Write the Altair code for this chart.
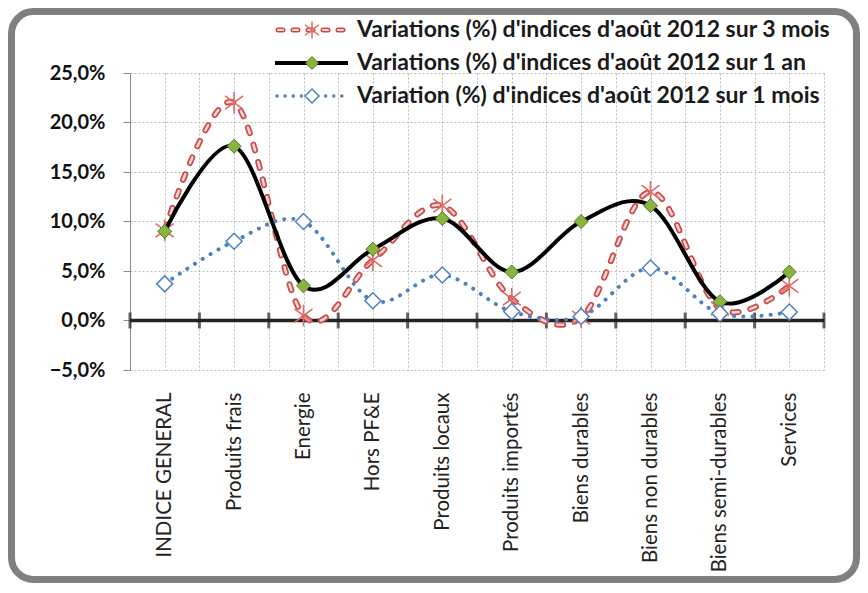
import json
import altair as alt
import pandas as pd

categories = ["INDICE GENERAL", "Produits frais", "Energie", "Hors PF&E", "Produits locaux",
              "Produits importés", "Biens durables", "Biens non durables", "Biens semi-durables", "Services"]
series_names = ["Variations (%) d'indices d'août 2012 sur 3 mois",
                "Variations (%) d'indices d'août 2012 sur 1 an",
                "Variation (%) d'indices d'août 2012 sur 1 mois"]
var_3mois = [9.1, 22.0, 0.5, 6.1, 11.6, 2.2, 0.3, 13.0, 1.2, 3.5]
var_1an = [9.0, 17.6, 3.5, 7.2, 10.3, 4.9, 10.0, 11.6, 1.9, 4.9]
var_1mois = [3.7, 8.0, 10.0, 2.0, 4.6, 0.9, 0.4, 5.3, 0.7, 0.85]
y_ticks = [-0.05, 0.0, 0.05, 0.10, 0.15, 0.20, 0.25]

rows = []
for name, vals in zip(series_names, [var_3mois, var_1an, var_1mois]):
    for i, (c, v) in enumerate(zip(categories, vals)):
        rows.append({"idx": i, "cat": c, "value": v / 100.0, "series": name})
df = pd.DataFrame(rows)

n = len(categories)
grid_x = [i * 0.5 - 0.5 for i in range(2 * n + 1)]
bounds_df = pd.DataFrame({"b": [i - 0.5 for i in range(n + 1)]})
one = pd.DataFrame({"a": [0]})

FONT = "Lato"
RED = "#CC4B48"
RED_IN = "#F6DADA"
GREEN = "#8AB43E"
GREEN_DK = "#55762A"
BLUE = "#4F81BD"

label_expr = "datum.value % 1 === 0 ? " + json.dumps(categories) + "[datum.value] : ''"

x_axis = alt.Axis(values=grid_x, labelExpr=label_expr, grid=True, gridDash=[2, 2],
                  gridColor="#BDBDBD", domain=False, ticks=False, labelAngle=270,
                  labelAlign="right", labelBaseline="middle", labelPadding=22,
                  labelFont=FONT, labelFontSize=20.5, labelColor="#222222",
                  labelOverlap=False, labelFlush=False, title=None)
y_axis = alt.Axis(values=y_ticks, labelExpr="replace(format(datum.value, '.1%'), '.', ',')",
                  grid=True, gridDash=[2, 2], gridColor="#BDBDBD", domainColor="#8C8C8C",
                  tickColor="#8C8C8C", tickSize=7, labelPadding=18, labelFont=FONT,
                  labelFontSize=20, labelFontWeight="bold", labelColor="#111111", title=None)
x_scale = alt.Scale(domain=[-0.5, n - 0.5], nice=False, zero=False)
y_scale = alt.Scale(domain=[-0.05, 0.25], nice=False)


def X(field):
    return alt.X(field, type="quantitative", scale=x_scale, axis=x_axis)


def Y(field):
    return alt.Y(field, type="quantitative", scale=y_scale, axis=y_axis)


frame = alt.Chart(one).mark_rect(fillOpacity=0, stroke="#808080", strokeWidth=7,
                                 cornerRadius=22).encode(
    x=alt.value(-118.5), x2=alt.value(726.5), y=alt.value(-61.5), y2=alt.value(506.5))

zero = alt.Chart(one).mark_rule(color="#222222", strokeWidth=3.5).encode(y=alt.datum(0))
zticks = alt.Chart(bounds_df).mark_tick(orient="vertical", size=16, thickness=3,
                                        color="#222222").encode(x=X("b"), y=alt.datum(0))

base = alt.Chart(df)


def sel(name):
    return base.transform_filter(alt.datum.series == name)


star = "M-1,-0.75L1,0.75M-1,0.75L1,-0.75M0,-1.2L0,1.2"

s1 = sel(series_names[0])
red_out = s1.mark_line(interpolate="cardinal", color=RED, strokeWidth=6, strokeDash=[6, 12],
                       strokeCap="round").encode(x=X("idx"), y=Y("value"))
red_in = s1.mark_line(interpolate="cardinal", color=RED_IN, strokeWidth=2.5, strokeDash=[6, 12],
                      strokeCap="round").encode(x=X("idx"), y=Y("value"))
red_pt = s1.mark_point(shape=star, size=324, filled=False, stroke="#E06A66",
                       strokeWidth=1.6, opacity=1).encode(x=X("idx"), y=Y("value"))

s2 = sel(series_names[1])
blk_line = s2.mark_line(interpolate="cardinal", color="#000000", strokeWidth=4).encode(
    x=X("idx"), y=Y("value"))
blk_pt = s2.mark_point(shape="diamond", size=196, filled=True, fill=GREEN, stroke=GREEN_DK,
                       strokeWidth=1, opacity=1, fillOpacity=1).encode(x=X("idx"), y=Y("value"))

s3 = sel(series_names[2])
blue_line = s3.mark_line(interpolate="cardinal", color=BLUE, strokeWidth=4, strokeDash=[0.1, 9],
                         strokeCap="round").encode(x=X("idx"), y=Y("value"))
blue_pt = s3.mark_point(shape="diamond", size=256, filled=True, fill="#FFFFFF", stroke=BLUE,
                        strokeWidth=1.5, opacity=1, fillOpacity=1).encode(x=X("idx"), y=Y("value"))

# legend (decoration)
leg_y = [-43, -10, 23]
lx1, lx2, lmx, ltx = 145, 218, 182, 227
leg = []
leg.append(alt.Chart(one).mark_rule(color=RED, strokeWidth=5, strokeDash=[5, 10], strokeCap="round").encode(
    x=alt.value(lx1 + 3), x2=alt.value(lx2), y=alt.value(leg_y[0])))
leg.append(alt.Chart(one).mark_rule(color=RED_IN, strokeWidth=2, strokeDash=[5, 10], strokeCap="round").encode(
    x=alt.value(lx1 + 3), x2=alt.value(lx2), y=alt.value(leg_y[0])))
leg.append(alt.Chart(one).mark_point(shape=star, size=196, filled=False, stroke="#E06A66",
                                     strokeWidth=1.5, opacity=1).encode(
    x=alt.value(lmx), y=alt.value(leg_y[0])))
leg.append(alt.Chart(one).mark_rule(color="#000000", strokeWidth=4).encode(
    x=alt.value(lx1), x2=alt.value(lx2), y=alt.value(leg_y[1])))
leg.append(alt.Chart(one).mark_point(shape="diamond", size=169, filled=True, fill=GREEN, stroke=GREEN_DK,
                                     strokeWidth=1, opacity=1).encode(
    x=alt.value(lmx), y=alt.value(leg_y[1])))
leg.append(alt.Chart(one).mark_rule(color=BLUE, strokeWidth=3.5, strokeDash=[0.1, 8], strokeCap="round").encode(
    x=alt.value(lx1 + 2), x2=alt.value(lx2), y=alt.value(leg_y[2])))
leg.append(alt.Chart(one).mark_point(shape="diamond", size=196, filled=True, fill="#FFFFFF", stroke=BLUE,
                                     strokeWidth=1.5, opacity=1).encode(
    x=alt.value(lmx), y=alt.value(leg_y[2])))
leg_df = pd.DataFrame({"series": series_names, "row": [0, 1, 2]})
for i, name in enumerate(series_names):
    leg.append(alt.Chart(leg_df).transform_filter(alt.datum.row == i).mark_text(
        align="left", baseline="middle", font=FONT, fontSize=23, fontWeight="bold",
        color="#1A1A1A").encode(x=alt.value(ltx), y=alt.value(leg_y[i]), text="series:N"))

chart = alt.layer(
    frame, zero, zticks, red_out, red_in, red_pt, blk_line, blk_pt, blue_line, blue_pt, *leg
).properties(width=694, height=297, padding=0, background="#FFFFFF").configure_view(strokeWidth=0)

chart.save("out.html", embed_options={"renderer": "svg", "actions": False})
